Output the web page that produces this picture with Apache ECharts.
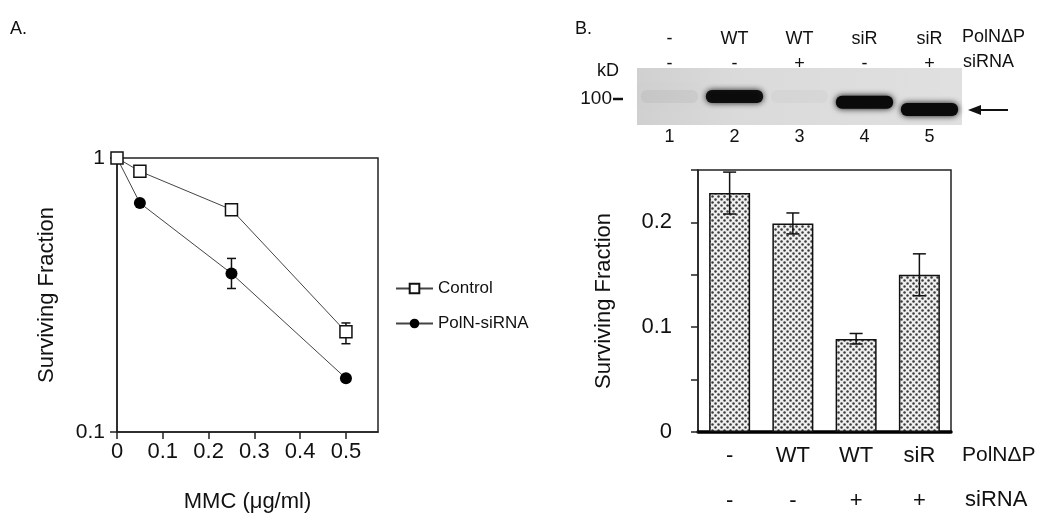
<!DOCTYPE html>
<html><head><meta charset="utf-8">
<script src="https://cdn.jsdelivr.net/npm/echarts@6/dist/echarts.min.js"></script>
<style>html,body{margin:0;padding:0;background:#fff}#c{width:1050px;height:531px}</style>
</head><body><div id="c"></div>
<script>
// ---------- Panel A data ----------
const mmcDoses = [0, 0.05, 0.25, 0.5];
const controlSurv = [1.0, 0.894, 0.648, 0.232];
const polnSirnaSurv = [1.0, 0.685, 0.379, 0.157];
const controlErrLow = [null, null, null, 0.21];
const controlErrHigh = [null, null, null, 0.25];
const polnErrLow = [null, null, 0.334, null];
const polnErrHigh = [null, null, 0.430, null];
const seriesNamesA = ['Control', 'PolN-siRNA'];

// ---------- Panel B blot ----------
const laneNumbers = ['1', '2', '3', '4', '5'];
const laneHdrPolN = ['-', 'WT', 'WT', 'siR', 'siR'];
const laneHdrSiRNA = ['-', '-', '+', '-', '+'];
const bandPos = [0.5, 0.5, 0.5, 0.4, 0.27];      // relative migration within blot
const bandIntensity = [0.05, 0.95, 0.025, 1.0, 1.0];

// ---------- Panel B bars ----------
const barPolN = ['-', 'WT', 'WT', 'siR'];
const barSiRNA = ['-', '-', '+', '+'];
const barSurv = [0.228, 0.199, 0.0887, 0.150];
const barErrLow = [0.208, 0.189, 0.084, 0.130];
const barErrHigh = [0.248, 0.209, 0.094, 0.170];

const FONT = "'Liberation Sans', Arial, sans-serif";
const TXT = '#111';

// stipple pattern for bars
const pc = document.createElement('canvas');
pc.width = 6; pc.height = 6;
const pctx = pc.getContext('2d');
pctx.fillStyle = '#efefef'; pctx.fillRect(0, 0, 6, 6);
pctx.fillStyle = '#3a3a3a';
[[1.5,1.5],[4.5,4.5]].forEach(([x,y]) => { pctx.beginPath(); pctx.arc(x, y, 1.25, 0, Math.PI*2); pctx.fill(); });

function errBar(capW) {
  return function (params, api) {
    const x = api.value(0), lo = api.value(1), hi = api.value(2);
    if (lo == null || isNaN(lo)) return null;
    const a = api.coord([x, lo]), b = api.coord([x, hi]);
    const st = { stroke: '#111', lineWidth: 1.5 };
    return { type: 'group', children: [
      { type: 'line', shape: { x1: a[0], y1: a[1], x2: b[0], y2: b[1] }, style: st },
      { type: 'line', shape: { x1: a[0]-capW/2, y1: a[1], x2: a[0]+capW/2, y2: a[1] }, style: st },
      { type: 'line', shape: { x1: b[0]-capW/2, y1: b[1], x2: b[0]+capW/2, y2: b[1] }, style: st }
    ]};
  };
}

const errA = [];
mmcDoses.forEach((d, i) => {
  if (controlErrLow[i] != null) errA.push([d, controlErrLow[i], controlErrHigh[i]]);
  if (polnErrLow[i] != null) errA.push([d, polnErrLow[i], polnErrHigh[i]]);
});

const chart = echarts.init(document.getElementById('c'), null, { renderer: 'canvas' });
const axisLineStyle = { color: '#222', width: 1.5 };

chart.setOption({
  animation: false,
  textStyle: { fontFamily: FONT, color: TXT },
  grid: [
    { left: 117, top: 158, width: 261, height: 274, show: true, borderColor: '#222', borderWidth: 1.5, backgroundColor: 'transparent' },
    { left: 637, top: 68, width: 325, height: 57, show: true, borderWidth: 0,
      backgroundColor: { type: 'linear', x: 0, y: 0, x2: 1, y2: 0, colorStops: [
        { offset: 0, color: '#d0d0d0' }, { offset: 0.3, color: '#dadada' }, { offset: 1, color: '#e0e0e0' } ] } },
    { left: 698, top: 170, width: 253, height: 262, show: true, borderColor: '#222', borderWidth: 1.5, backgroundColor: 'transparent' }
  ],
  xAxis: [
    { type: 'value', gridIndex: 0, min: 0, max: 0.57, interval: 0.1,
      axisLine: { lineStyle: axisLineStyle }, axisTick: { length: 7, lineStyle: axisLineStyle },
      splitLine: { show: false },
      axisLabel: { fontSize: 22, color: TXT, margin: 9, showMaxLabel: false, formatter: v => String(+v.toFixed(2)) },
      name: 'MMC (μg/ml)', nameLocation: 'middle', nameGap: 59, nameTextStyle: { fontSize: 22, color: TXT } },
    { type: 'category', gridIndex: 1, data: laneNumbers, position: 'bottom',
      axisLine: { show: false }, axisTick: { show: false },
      axisLabel: { fontSize: 18, color: TXT, margin: 2, lineHeight: 20 } },
    { type: 'category', gridIndex: 2, data: barPolN.map((p, i) => p + '\n' + barSiRNA[i]),
      axisLine: { lineStyle: { color: '#000', width: 3.5 } }, axisTick: { show: false },
      axisLabel: { fontSize: 22, color: TXT, margin: 1, lineHeight: 45 } },
    { type: 'category', gridIndex: 1, position: 'top', data: laneHdrPolN.map((p, i) => p + '\n' + laneHdrSiRNA[i]),
      axisLine: { show: false }, axisTick: { show: false },
      axisLabel: { fontSize: 18, color: TXT, margin: -9, lineHeight: 25 } }
  ],
  yAxis: [
    { type: 'log', gridIndex: 0, min: 0.1, max: 1, logBase: 10,
      axisLine: { show: true, lineStyle: axisLineStyle }, axisTick: { show: true, length: 7, lineStyle: axisLineStyle },
      minorTick: { show: false }, splitLine: { show: false },
      axisLabel: { fontSize: 21, color: TXT, margin: 12 },
      name: 'Surviving Fraction', nameLocation: 'middle', nameGap: 59, nameTextStyle: { fontSize: 22, color: TXT } },
    { type: 'value', gridIndex: 1, min: 0, max: 1, show: false },
    { type: 'value', gridIndex: 2, min: 0, max: 0.25, interval: 0.05,
      axisLine: { show: true, lineStyle: axisLineStyle }, axisTick: { show: true, length: 7, lineStyle: axisLineStyle },
      splitLine: { show: false },
      axisLabel: { fontSize: 22, color: TXT, margin: 26,
        formatter: v => { const r = Math.round(v * 100); return r % 10 === 0 ? String(r / 100) : ''; } },
      name: 'Surviving Fraction', nameLocation: 'middle', nameGap: 83, nameTextStyle: { fontSize: 22, color: TXT } }
  ],
  legend: {
    data: seriesNamesA, orient: 'vertical', left: 390, top: 275, itemWidth: 37, itemHeight: 12, itemGap: 18,
    textStyle: { fontSize: 17, color: TXT, fontFamily: FONT }
  },
  series: [
    { name: seriesNamesA[1], type: 'line', xAxisIndex: 0, yAxisIndex: 0, z: 3,
      data: mmcDoses.map((d, i) => [d, polnSirnaSurv[i]]),
      symbol: 'circle', symbolSize: 12, itemStyle: { color: '#000' },
      lineStyle: { color: '#444', width: 1 } },
    { name: seriesNamesA[0], type: 'line', xAxisIndex: 0, yAxisIndex: 0, z: 4,
      data: mmcDoses.map((d, i) => [d, controlSurv[i]]),
      symbol: 'rect', symbolSize: 12, showAllSymbol: true,
      itemStyle: { color: '#fff', borderColor: '#111', borderWidth: 1.5 },
      lineStyle: { color: '#444', width: 1 } },
    { type: 'custom', xAxisIndex: 0, yAxisIndex: 0, z: 2, renderItem: errBar(9),
      encode: { x: 0, y: [1, 2] }, data: errA },
    { type: 'custom', xAxisIndex: 1, yAxisIndex: 1, z: 2,
      encode: { x: 0, y: 1 },
      data: laneNumbers.map((l, i) => [i, bandPos[i], bandIntensity[i]]),
      renderItem: (params, api) => {
        const c = api.coord([api.value(0), api.value(1)]);
        const w = api.size([1, 0])[0] * 0.88, h = 13;
        const a = api.value(2);
        return { type: 'rect', shape: { x: c[0] - w / 2, y: c[1] - h / 2, width: w, height: h, r: 6 },
          style: { fill: 'rgba(10,10,10,' + a + ')', shadowBlur: 6, shadowColor: 'rgba(10,10,10,' + a + ')' } };
      } },
    { type: 'bar', xAxisIndex: 2, yAxisIndex: 2, data: barSurv, barWidth: 41,
      itemStyle: { color: { image: pc, repeat: 'repeat' }, borderColor: '#111', borderWidth: 1.5 } },
    { type: 'custom', xAxisIndex: 2, yAxisIndex: 2, z: 3, renderItem: errBar(13),
      encode: { x: 0, y: [1, 2] }, data: barSurv.map((v, i) => [i, barErrLow[i], barErrHigh[i]]) }
  ],
  graphic: [
    { type: 'text', left: 10, top: 20, style: { text: 'A.', fontSize: 18, fill: TXT, fontFamily: FONT } },
    { type: 'text', left: 575, top: 20, style: { text: 'B.', fontSize: 18, fill: TXT, fontFamily: FONT } },
    { type: 'text', x: 962, y: 37, style: { text: 'PolNΔP', fontSize: 18, fill: TXT, fontFamily: FONT, verticalAlign: 'middle' } },
    { type: 'text', x: 963, y: 62, style: { text: 'siRNA', fontSize: 18, fill: TXT, fontFamily: FONT, verticalAlign: 'middle' } },
    { type: 'text', x: 597, y: 71, style: { text: 'kD', fontSize: 18, fill: TXT, fontFamily: FONT, verticalAlign: 'middle' } },
    { type: 'text', x: 612, y: 99, style: { text: '100', fontSize: 19, fill: TXT, fontFamily: FONT, verticalAlign: 'middle', align: 'right' } },
    { type: 'line', shape: { x1: 613, y1: 99, x2: 623, y2: 99 }, style: { stroke: '#111', lineWidth: 2.5 } },
    { type: 'line', shape: { x1: 978, y1: 110, x2: 1008, y2: 110 }, style: { stroke: '#111', lineWidth: 2 } },
    { type: 'polygon', shape: { points: [[968, 110], [981, 105], [981, 115]] }, style: { fill: '#111' } },
    { type: 'text', x: 962, y: 455, style: { text: 'PolNΔP', fontSize: 21, fill: TXT, fontFamily: FONT, verticalAlign: 'middle' } },
    { type: 'text', x: 965, y: 500, style: { text: 'siRNA', fontSize: 22, fill: TXT, fontFamily: FONT, verticalAlign: 'middle' } }
  ]
});
</script></body></html>
